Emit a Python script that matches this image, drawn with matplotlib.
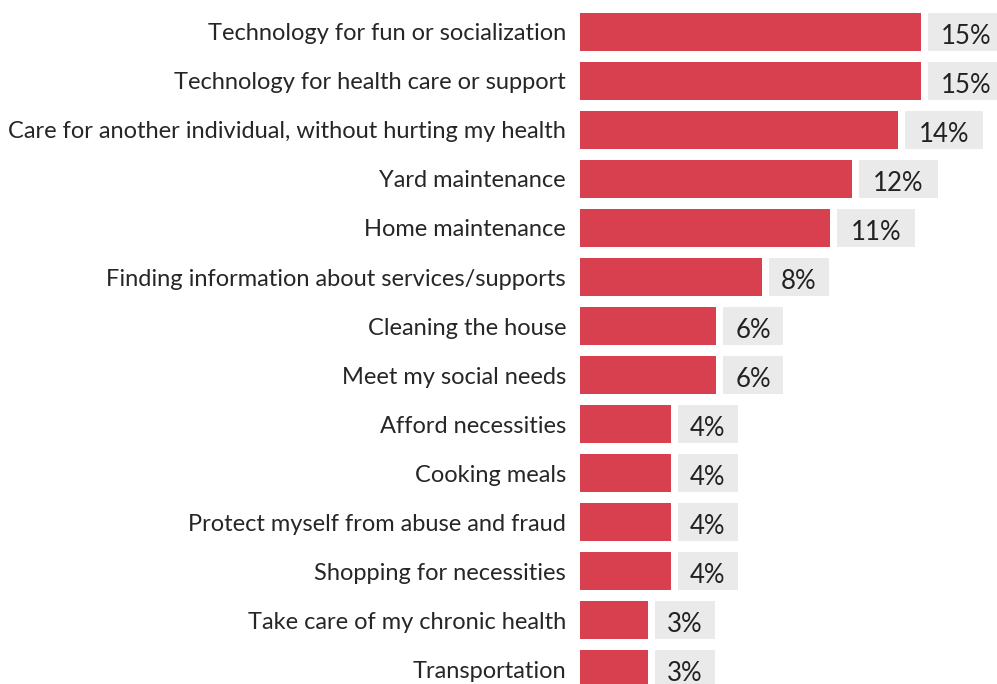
import matplotlib.pyplot as plt

categories = [
    "Technology for fun or socialization",
    "Technology for health care or support",
    "Care for another individual, without hurting my health",
    "Yard maintenance",
    "Home maintenance",
    "Finding information about services/supports",
    "Cleaning the house",
    "Meet my social needs",
    "Afford necessities",
    "Cooking meals",
    "Protect myself from abuse and fraud",
    "Shopping for necessities",
    "Take care of my chronic health",
    "Transportation",
]
values = [15, 15, 14, 12, 11, 8, 6, 6, 4, 4, 4, 4, 3, 3]

plt.rcParams['font.family'] = ['Lato', 'DejaVu Sans']

fig = plt.figure(figsize=(9.97, 6.84), dpi=100)
ax = fig.add_axes([580 / 997, 0, 417 / 997, 1])

ypos = list(range(len(categories)))
bar_h = 0.78
ax.barh(ypos, values, height=bar_h, color="#D9404F")

# light grey label boxes next to each bar, wider for two-digit values
gap = 0.31
box_w = [3.44 if v >= 10 else 2.64 for v in values]
box_left = [v + gap for v in values]
ax.barh(ypos, box_w, left=box_left, height=bar_h, color="#EAEAEA")

for y, v, l, w in zip(ypos, values, box_left, box_w):
    ax.text(l + w / 2, y + 0.1, f"{v}%", ha="center", va="center",
            fontsize=18.5, color="#222222")

ax.set_xlim(0, 18.37)
ax.set_ylim(13.306, -0.653)
ax.set_yticks(ypos)
ax.set_yticklabels(categories, fontsize=17, color="#262626")
ax.tick_params(axis="y", length=0, pad=10)
ax.set_xticks([])
for s in ax.spines.values():
    s.set_visible(False)

fig.savefig("out.png", dpi=100)
